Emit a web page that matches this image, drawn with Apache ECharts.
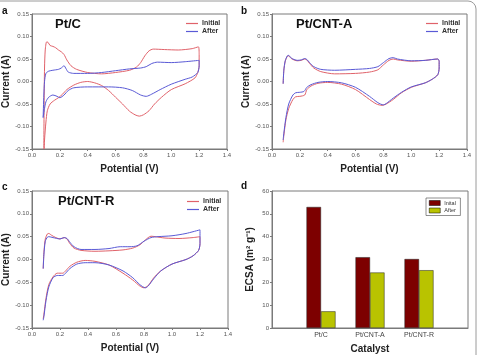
<!DOCTYPE html>
<html><head><meta charset="utf-8">
<script src="https://cdn.jsdelivr.net/npm/echarts@6/dist/echarts.min.js"></script>
<style>html,body{margin:0;padding:0;background:#fff}#c{width:478px;height:355px}</style>
</head><body><div id="c"></div>
<script>
// Panel a: Pt/C
const aInitial = [[0.085,-0.15],[0.087,-0.05],[0.09,0.03],[0.095,0.07],[0.105,0.088],[0.115,0.087],[0.13,0.08],[0.15,0.078],[0.17,0.075],[0.19,0.07],[0.21,0.066],[0.23,0.06],[0.25,0.048],[0.28,0.035],[0.32,0.027],[0.4,0.02],[0.5,0.017],[0.6,0.02],[0.7,0.025],[0.75,0.032],[0.78,0.042],[0.81,0.057],[0.84,0.068],[0.87,0.072],[0.95,0.071],[1.05,0.07],[1.15,0.073],[1.195,0.077],[1.2,0.06],[1.2,0.035],[1.19,0.02],[1.17,0.008],[1.1,-0.005],[1.0,-0.018],[0.93,-0.035],[0.88,-0.05],[0.84,-0.065],[0.8,-0.074],[0.77,-0.077],[0.74,-0.074],[0.7,-0.066],[0.65,-0.05],[0.6,-0.035],[0.55,-0.02],[0.5,-0.009],[0.45,-0.003],[0.4,0.0],[0.35,-0.002],[0.3,-0.008],[0.25,-0.018],[0.22,-0.028],[0.19,-0.036],[0.16,-0.042],[0.13,-0.05],[0.11,-0.065],[0.1,-0.09],[0.09,-0.13],[0.088,-0.15]];
const aAfter = [[0.08,-0.08],[0.085,-0.03],[0.09,0.0],[0.1,0.018],[0.12,0.023],[0.15,0.025],[0.19,0.027],[0.21,0.03],[0.23,0.035],[0.245,0.028],[0.26,0.021],[0.3,0.018],[0.4,0.018],[0.5,0.02],[0.6,0.024],[0.7,0.028],[0.78,0.03],[0.82,0.033],[0.86,0.04],[0.9,0.043],[1.0,0.042],[1.1,0.044],[1.2,0.047],[1.2,0.035],[1.19,0.02],[1.15,0.01],[1.1,0.005],[1.0,-0.006],[0.92,-0.018],[0.86,-0.028],[0.82,-0.033],[0.78,-0.03],[0.72,-0.02],[0.65,-0.014],[0.55,-0.012],[0.4,-0.012],[0.3,-0.014],[0.26,-0.02],[0.23,-0.03],[0.2,-0.036],[0.18,-0.033],[0.15,-0.03],[0.12,-0.035],[0.1,-0.045],[0.09,-0.06],[0.08,-0.08]];
// Panel b: Pt/CNT-A
const bInitial = [[0.08,-0.005],[0.085,0.025],[0.095,0.045],[0.11,0.056],[0.12,0.057],[0.135,0.052],[0.15,0.049],[0.18,0.046],[0.21,0.047],[0.235,0.05],[0.25,0.048],[0.27,0.04],[0.3,0.03],[0.35,0.022],[0.45,0.017],[0.6,0.018],[0.7,0.021],[0.76,0.026],[0.8,0.037],[0.84,0.047],[0.87,0.05],[0.9,0.048],[1.0,0.045],[1.1,0.047],[1.19,0.05],[1.2,0.045],[1.2,0.03],[1.19,0.015],[1.15,0.005],[1.1,-0.003],[1.0,-0.013],[0.93,-0.025],[0.87,-0.04],[0.82,-0.05],[0.79,-0.053],[0.75,-0.05],[0.7,-0.04],[0.6,-0.018],[0.5,-0.006],[0.4,-0.002],[0.33,-0.004],[0.28,-0.01],[0.25,-0.018],[0.235,-0.03],[0.2,-0.033],[0.17,-0.034],[0.15,-0.04],[0.12,-0.06],[0.1,-0.085],[0.085,-0.12],[0.08,-0.135]];
const bAfter = [[0.08,-0.005],[0.085,0.025],[0.095,0.046],[0.11,0.057],[0.12,0.058],[0.135,0.053],[0.15,0.05],[0.18,0.047],[0.21,0.048],[0.235,0.051],[0.25,0.049],[0.27,0.042],[0.3,0.033],[0.35,0.027],[0.45,0.025],[0.6,0.027],[0.7,0.029],[0.76,0.033],[0.8,0.042],[0.84,0.051],[0.87,0.053],[0.9,0.05],[1.0,0.046],[1.1,0.047],[1.19,0.05],[1.2,0.045],[1.2,0.03],[1.19,0.015],[1.15,0.005],[1.1,-0.003],[1.0,-0.012],[0.93,-0.024],[0.87,-0.037],[0.82,-0.049],[0.8,-0.052],[0.76,-0.047],[0.7,-0.033],[0.6,-0.013],[0.5,-0.003],[0.4,0.0],[0.33,-0.002],[0.28,-0.007],[0.25,-0.013],[0.23,-0.022],[0.2,-0.024],[0.17,-0.025],[0.15,-0.03],[0.12,-0.05],[0.1,-0.08],[0.085,-0.115],[0.08,-0.13]];
// Panel c: Pt/CNT-R
const cInitial = [[0.08,-0.02],[0.085,0.015],[0.095,0.045],[0.11,0.056],[0.12,0.057],[0.14,0.053],[0.17,0.048],[0.2,0.045],[0.23,0.048],[0.25,0.045],[0.27,0.035],[0.3,0.025],[0.35,0.02],[0.45,0.018],[0.55,0.019],[0.65,0.021],[0.72,0.025],[0.77,0.032],[0.81,0.043],[0.85,0.051],[0.88,0.05],[0.95,0.047],[1.05,0.046],[1.15,0.048],[1.2,0.05],[1.2,0.035],[1.19,0.02],[1.15,0.008],[1.1,0.0],[1.0,-0.01],[0.92,-0.025],[0.87,-0.04],[0.83,-0.057],[0.8,-0.062],[0.77,-0.058],[0.72,-0.045],[0.65,-0.03],[0.55,-0.012],[0.45,-0.004],[0.38,-0.002],[0.32,-0.006],[0.27,-0.015],[0.24,-0.025],[0.22,-0.03],[0.18,-0.03],[0.15,-0.038],[0.12,-0.055],[0.1,-0.085],[0.085,-0.12],[0.08,-0.13]];
const cAfter = [[0.08,-0.02],[0.085,0.01],[0.095,0.04],[0.11,0.049],[0.12,0.05],[0.15,0.048],[0.2,0.045],[0.23,0.048],[0.25,0.046],[0.27,0.038],[0.3,0.028],[0.35,0.022],[0.45,0.022],[0.55,0.024],[0.63,0.028],[0.7,0.028],[0.75,0.03],[0.8,0.04],[0.85,0.048],[0.9,0.05],[1.0,0.052],[1.1,0.057],[1.2,0.065],[1.2,0.035],[1.19,0.02],[1.15,0.008],[1.1,0.0],[1.0,-0.01],[0.92,-0.025],[0.87,-0.042],[0.83,-0.058],[0.81,-0.062],[0.77,-0.055],[0.72,-0.04],[0.65,-0.025],[0.55,-0.012],[0.45,-0.007],[0.38,-0.007],[0.32,-0.01],[0.27,-0.02],[0.24,-0.03],[0.22,-0.035],[0.18,-0.035],[0.15,-0.04],[0.12,-0.06],[0.1,-0.09],[0.085,-0.125],[0.08,-0.133]];
// Panel d: ECSA bars
const catalysts = ['Pt/C', 'Pt/CNT-A', 'Pt/CNT-R'];
const ecsaInitial = [53, 31, 30.2];
const ecsaAfter = [7.3, 24.3, 25.3];
const panelLetters = ['a', 'b', 'c', 'd'];
const panelTitles = ['Pt/C', 'Pt/CNT-A', 'Pt/CNT-R'];

const FONT = '"Liberation Sans", Arial, sans-serif';
const RED = '#e0626a', BLUE = '#5a5ad6';
const BAR1 = '#7d0000', BAR2 = '#b9c300';

const grids = [
  {left: 32, top: 14, width: 195, height: 135},
  {left: 272, top: 14, width: 195, height: 135},
  {left: 32, top: 191, width: 196, height: 137},
  {left: 272, top: 191, width: 196, height: 138}
].map(g => Object.assign({show: true, borderColor: '#7a7a7a', borderWidth: 1, backgroundColor: 'transparent'}, g));

const tickLabel = {fontSize: 6, color: '#555', fontFamily: FONT, margin: 3};
const axisNameStyle = {fontSize: 10, fontWeight: 'bold', color: '#222', fontFamily: FONT};

function cvX(i) {
  return {gridIndex: i, type: 'value', min: 0, max: 1.4, interval: 0.2,
    name: 'Potential (V)', nameLocation: 'middle', nameGap: 15, nameTextStyle: axisNameStyle,
    axisLine: {show: true, onZero: false, lineStyle: {color: '#7a7a7a'}},
    axisTick: {show: true, length: 2, lineStyle: {color: '#7a7a7a'}},
    axisLabel: Object.assign({formatter: v => v.toFixed(1)}, tickLabel),
    splitLine: {show: false}};
}
function cvY(i) {
  return {gridIndex: i, type: 'value', min: -0.15, max: 0.15, interval: 0.05,
    name: 'Current (A)', nameLocation: 'middle', nameGap: 19, nameTextStyle: axisNameStyle,
    axisLine: {show: true, onZero: false, lineStyle: {color: '#7a7a7a'}},
    axisTick: {show: true, length: 2, lineStyle: {color: '#7a7a7a'}},
    axisLabel: Object.assign({formatter: v => v.toFixed(2)}, tickLabel),
    splitLine: {show: false}};
}
function cvSeries(name, data, idx, color) {
  return {type: 'line', name: name, xAxisIndex: idx, yAxisIndex: idx, data: data,
    showSymbol: false, symbol: 'none', smooth: 0.25, clip: true,
    lineStyle: {color: color, width: 1}, itemStyle: {color: color}};
}
function cvLegend(left, top) {
  return {left: left, top: top, orient: 'vertical', itemGap: 1, itemWidth: 12, itemHeight: 1.2,
    icon: 'rect', selectedMode: false, padding: 0, data: ['Initial', 'After'],
    textStyle: {fontSize: 7, fontWeight: 'bold', color: '#333', fontFamily: FONT, padding: [0, 0, 0, -1]}};
}

const option = {
  animation: false,
  backgroundColor: '#fff',
  grid: grids,
  title: [
    {text: panelLetters[0], left: 2, top: 6},
    {text: panelLetters[1], left: 241, top: 6},
    {text: panelLetters[2], left: 2, top: 182},
    {text: panelLetters[3], left: 241, top: 181},
  ].map(t => Object.assign({textStyle: {fontSize: 10, fontWeight: 'bold', color: '#111', fontFamily: FONT}, padding: 0}, t)).concat([
    {text: panelTitles[0], left: 55, top: 18},
    {text: panelTitles[1], left: 296, top: 18},
    {text: panelTitles[2], left: 58, top: 195},
  ].map(t => Object.assign({textStyle: {fontSize: 13, fontWeight: 'bold', color: '#111', fontFamily: FONT}, padding: 0}, t))),
  legend: [
    cvLegend(186, 20),
    cvLegend(426, 20),
    cvLegend(187, 198),
    {left: 426, top: 198, orient: 'vertical', itemGap: 1.5, itemWidth: 11, itemHeight: 5,
     icon: 'rect', selectedMode: false, padding: [2, 3, 2, 3], borderColor: '#444', borderWidth: 0.6,
     data: ['Inital', 'After '],
     itemStyle: {borderColor: '#000', borderWidth: 0.5},
     textStyle: {fontSize: 5.5, color: '#333', fontFamily: FONT, padding: [0, 0, 0, -1]}}
  ],
  xAxis: [cvX(0), cvX(1), cvX(2),
    {gridIndex: 3, type: 'category', boundaryGap: false, data: [''].concat(catalysts, ['']),
     name: 'Catalyst', nameLocation: 'middle', nameGap: 16, nameTextStyle: axisNameStyle,
     axisLine: {show: true, onZero: false, lineStyle: {color: '#7a7a7a'}},
     axisTick: {show: false},
     axisLabel: {fontSize: 7, color: '#444', fontFamily: FONT, margin: 4, interval: 0},
     splitLine: {show: false}}],
  yAxis: [cvY(0), cvY(1), cvY(2),
    {gridIndex: 3, type: 'value', min: 0, max: 60, interval: 10,
     name: 'ECSA (m\u00B2 g\u207B\u00B9)', nameLocation: 'middle', nameGap: 17, nameTextStyle: axisNameStyle,
     axisLine: {show: true, lineStyle: {color: '#7a7a7a'}},
     axisTick: {show: true, length: 2, lineStyle: {color: '#7a7a7a'}},
     axisLabel: tickLabel, splitLine: {show: false}}],
  series: [
    cvSeries('Initial', aInitial, 0, RED), cvSeries('After', aAfter, 0, BLUE),
    cvSeries('Initial', bInitial, 1, RED), cvSeries('After', bAfter, 1, BLUE),
    cvSeries('Initial', cInitial, 2, RED), cvSeries('After', cAfter, 2, BLUE),
    {type: 'bar', name: 'Inital', xAxisIndex: 3, yAxisIndex: 3, data: [null].concat(ecsaInitial, [null]),
     barWidth: 14.5, barGap: '0%', itemStyle: {color: BAR1, borderColor: '#222', borderWidth: 0.5}},
    {type: 'bar', name: 'After ', xAxisIndex: 3, yAxisIndex: 3, data: [null].concat(ecsaAfter, [null]),
     barWidth: 14.5, barGap: '0%', itemStyle: {color: BAR2, borderColor: '#222', borderWidth: 0.5}}
  ],
  graphic: [{type: 'rect', shape: {x: -10, y: 1, width: 486, height: 400, r: 8},
    style: {fill: 'none', stroke: '#9a9a9a', lineWidth: 1}, silent: true}]
};
const chart = echarts.init(document.getElementById('c'), null, {renderer: 'canvas'});
chart.setOption(option);
</script></body></html>
